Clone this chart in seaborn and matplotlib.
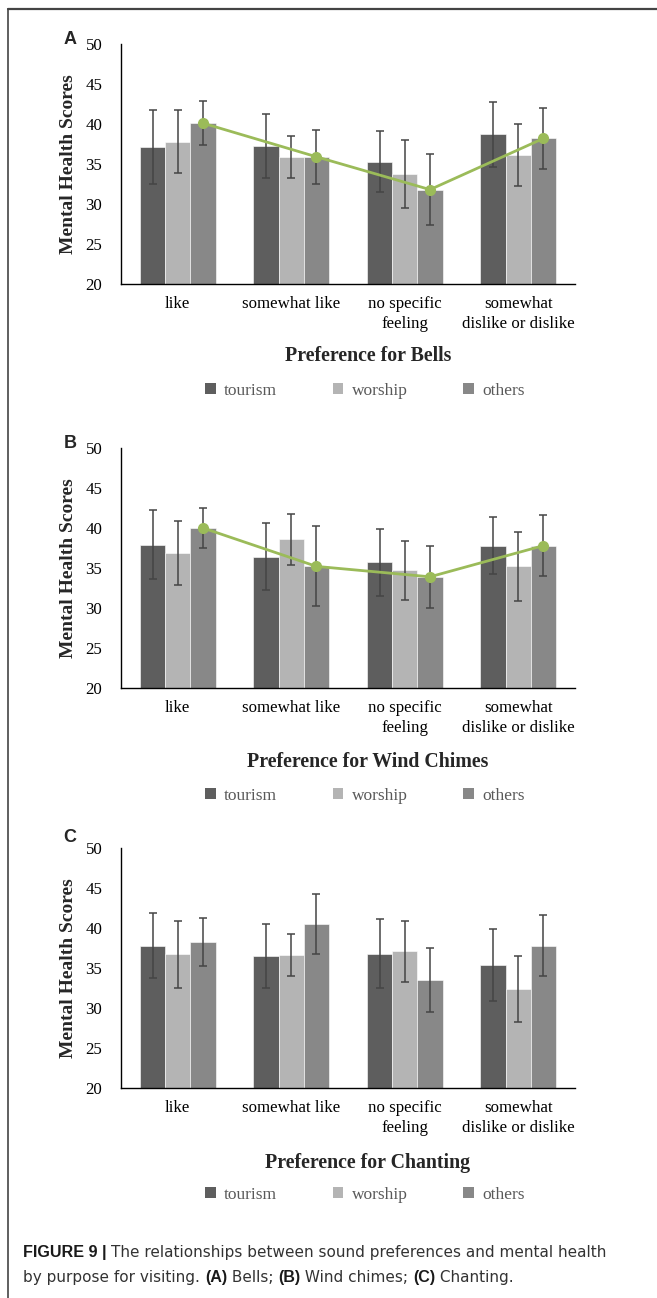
import numpy as np
import pandas as pd
import matplotlib
matplotlib.use('Agg')
import matplotlib.pyplot as plt
from matplotlib.lines import Line2D
from matplotlib.patches import Patch
import seaborn as sns

categories = ['like', 'somewhat like', 'no specific\nfeeling', 'somewhat\ndislike or dislike']
purposes = ['tourism', 'worship', 'others']
palette = ['#5e5e5e', '#b4b4b4', '#888888']
green = '#9bbb59'

# mean scores, one list per purpose (tourism, worship, others)
bells_means = [[37.1, 37.3, 35.3, 38.7],
               [37.8, 35.9, 33.7, 36.1],
               [40.1, 35.9, 31.8, 38.2]]
bells_sd = [[4.6, 4.0, 3.8, 4.05],
            [3.9, 2.65, 4.25, 3.9],
            [2.75, 3.4, 4.4, 3.8]]

chimes_means = [[37.9, 36.4, 35.7, 37.8],
                [36.9, 38.6, 34.7, 35.2],
                [40.0, 35.2, 33.9, 37.8]]
chimes_sd = [[4.3, 4.2, 4.2, 3.6],
             [4.0, 3.2, 3.65, 4.35],
             [2.45, 5.0, 3.9, 3.85]]

chanting_means = [[37.8, 36.5, 36.8, 35.4],
                  [36.7, 36.6, 37.1, 32.4],
                  [38.3, 40.5, 33.5, 37.8]]
chanting_sd = [[4.1, 4.05, 4.3, 4.5],
               [4.2, 2.6, 3.8, 4.15],
               [3.0, 3.75, 4.0, 3.8]]

panels = [
    ('A', 'Preference for Bells', bells_means, bells_sd, True),
    ('B', 'Preference for Wind Chimes', chimes_means, chimes_sd, True),
    ('C', 'Preference for Chanting', chanting_means, chanting_sd, False),
]

W, H = 657, 1298
fig = plt.figure(figsize=(W / 100, H / 100), dpi=100)
sns.set_style('white')
serif = 'Liberation Serif'
sans = 'Liberation Sans'


def fx(px):
    return px / W


def fy(py):
    return 1 - py / H


# pixel positions of each panel: top of axis, letter y, xlabel y, legend y
layout = [(44, 40, 356, 391), (448, 443, 762, 796), (848, 838, 1163, 1195)]
ax_left, ax_right, ax_h = 121, 575, 240

for (letter, xtitle, means, sds, trend), (top, ly, xly, legy) in zip(panels, layout):
    ax = fig.add_axes([fx(ax_left), fy(top + ax_h), fx(ax_right - ax_left), ax_h / H])
    df = pd.DataFrame({
        'preference': np.tile(categories, 3),
        'purpose': np.repeat(purposes, 4),
        'score': np.ravel(means),
        'sd': np.ravel(sds),
    })
    sns.barplot(data=df, x='preference', y='score', hue='purpose', order=categories,
                hue_order=purposes, palette=palette, errorbar=None, width=0.667,
                saturation=1, edgecolor='white', linewidth=0.4, legend=False, ax=ax)

    for cont, m, s in zip(ax.containers, means, sds):
        xs = [b.get_x() + b.get_width() / 2 for b in cont]
        ax.errorbar(xs, m, yerr=s, fmt='none', ecolor='#454545', elinewidth=1.1,
                    capsize=3, capthick=1.1, zorder=4)
        if trend and cont is ax.containers[2]:
            ax.plot(xs, m, color=green, lw=2, marker='o', markersize=7, zorder=5)

    ax.set_ylim(20, 50)
    ax.set_xlim(-0.5, 3.5)
    ax.set_yticks(range(20, 51, 5))
    ax.set_xlabel('')
    ax.set_ylabel('Mental Health Scores', fontfamily=serif, fontweight='bold',
                  fontsize=14, labelpad=6)
    for lab in ax.get_yticklabels():
        lab.set_fontfamily(serif)
        lab.set_fontsize(12.2)
    ax.set_xticks(range(4))
    ax.set_xticklabels(categories, fontfamily=serif, fontsize=12.2, linespacing=1.3)
    ax.tick_params(axis='both', direction='in', length=4, width=1, colors='black')
    ax.tick_params(axis='x', pad=9)
    ax.tick_params(axis='y', pad=13.5)
    ax.set_xticks([3.5], minor=True)
    ax.tick_params(axis='x', which='minor', direction='in', length=4, width=1)
    sns.despine(ax=ax)
    for sp in ['left', 'bottom']:
        ax.spines[sp].set_color('black')
        ax.spines[sp].set_linewidth(1)

    fig.text(fx(70), fy(ly), letter, fontfamily=sans, fontweight='bold', fontsize=13,
             ha='center', va='center')
    fig.text(fx(368), fy(xly), xtitle, fontfamily=serif, fontweight='bold', fontsize=14.3,
             ha='center', va='center')
    handles = [Patch(facecolor=c, edgecolor='none', label=p) for c, p in zip(palette, purposes)]
    leg = fig.legend(handles=handles, loc='center', bbox_to_anchor=(fx(365), fy(legy)),
                     ncol=3, frameon=False, handlelength=0.6, handleheight=0.6,
                     handletextpad=0.5, columnspacing=3.2,
                     prop={'family': serif, 'size': 12.5})
    for t in leg.get_texts():
        t.set_color('#595959')

# frame lines around the figure
fig.add_artist(Line2D([fx(8), fx(8)], [fy(9), 0], color='#444444', lw=1.2))
fig.add_artist(Line2D([fx(8), 1], [fy(9), fy(9)], color='#444444', lw=1.6))

# caption with bold runs
renderer = fig.canvas.get_renderer()


def draw_runs(x_px, y_px, runs, size=11):
    x = x_px
    for txt, bold in runs:
        if bold:
            t = fig.text(fx(x), fy(y_px), txt, fontfamily=sans, fontsize=size + 0.6,
                         fontweight='bold', color='#1a1a1a', ha='left', va='baseline')
        else:
            t = fig.text(fx(x), fy(y_px), txt, fontfamily='DejaVu Sans', fontsize=size,
                         color='#333333', ha='left', va='baseline')
        bb = t.get_window_extent(renderer=renderer)
        x += bb.width


draw_runs(23, 1257, [('FIGURE 9 | ', True),
                     ('The relationships between sound preferences and mental health', False)])
draw_runs(23, 1282, [('by purpose for visiting. ', False), ('(A)', True), (' Bells; ', False),
                     ('(B)', True), (' Wind chimes; ', False), ('(C)', True),
                     (' Chanting.', False)])

fig.savefig('out.png', dpi=100)
